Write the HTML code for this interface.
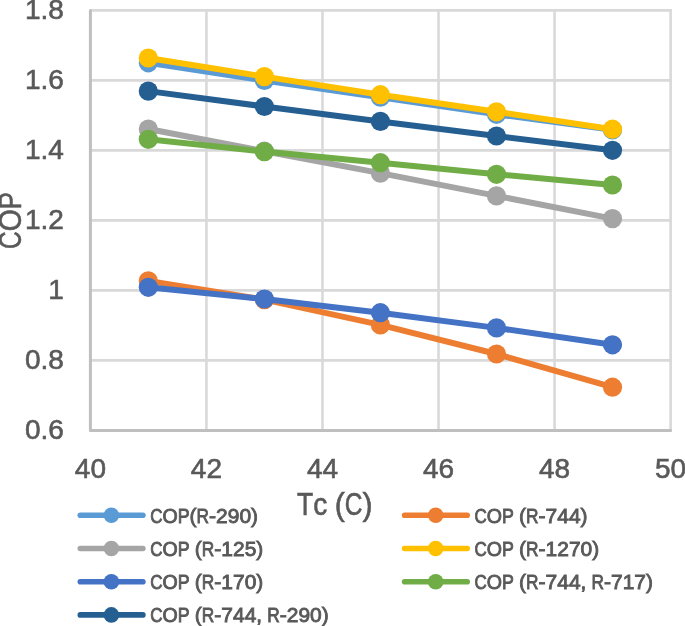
<!DOCTYPE html>
<html><head><meta charset="utf-8"><style>
html,body{margin:0;padding:0;background:#fff;width:685px;height:626px;overflow:hidden}
svg{display:block;will-change:transform}
text{font-family:"Liberation Sans",sans-serif;fill:#595959;stroke:#595959;stroke-width:0.35px}
svg text{opacity:0.999}
.tk{font-size:28px;stroke-width:0.6px}
.ti{font-size:30.48px;stroke-width:0.6px}
.lg{font-size:21.11px;stroke-width:0.9px}
</style></head><body>
<svg width="685" height="626" viewBox="0 0 685 626">
<line x1="90.4" y1="10.40" x2="671.9" y2="10.40" stroke="#d9d9d9" stroke-width="2.6"/>
<line x1="90.4" y1="80.40" x2="671.9" y2="80.40" stroke="#d9d9d9" stroke-width="2.6"/>
<line x1="90.4" y1="150.40" x2="671.9" y2="150.40" stroke="#d9d9d9" stroke-width="2.6"/>
<line x1="90.4" y1="220.40" x2="671.9" y2="220.40" stroke="#d9d9d9" stroke-width="2.6"/>
<line x1="90.4" y1="290.40" x2="671.9" y2="290.40" stroke="#d9d9d9" stroke-width="2.6"/>
<line x1="90.4" y1="360.40" x2="671.9" y2="360.40" stroke="#d9d9d9" stroke-width="2.6"/>
<line x1="206.44" y1="9.1" x2="206.44" y2="430.4" stroke="#d9d9d9" stroke-width="2.6"/>
<line x1="322.48" y1="9.1" x2="322.48" y2="430.4" stroke="#d9d9d9" stroke-width="2.6"/>
<line x1="438.52" y1="9.1" x2="438.52" y2="430.4" stroke="#d9d9d9" stroke-width="2.6"/>
<line x1="554.56" y1="9.1" x2="554.56" y2="430.4" stroke="#d9d9d9" stroke-width="2.6"/>
<line x1="670.60" y1="9.1" x2="670.60" y2="430.4" stroke="#d9d9d9" stroke-width="2.6"/>
<path d="M90.4,10.4 V430.4 H670.6" fill="none" stroke="#bfbfbf" stroke-width="3" stroke-linejoin="round" stroke-linecap="round"/>
<text x="63.9" y="19.1" text-anchor="end" class="tk">1.8</text>
<text x="63.9" y="89.1" text-anchor="end" class="tk">1.6</text>
<text x="63.9" y="159.1" text-anchor="end" class="tk">1.4</text>
<text x="63.9" y="229.1" text-anchor="end" class="tk">1.2</text>
<text x="63.9" y="299.1" text-anchor="end" class="tk">1</text>
<text x="63.9" y="369.1" text-anchor="end" class="tk">0.8</text>
<text x="63.9" y="439.1" text-anchor="end" class="tk">0.6</text>
<text x="90.4" y="477.6" text-anchor="middle" class="tk">40</text>
<text x="206.4" y="477.6" text-anchor="middle" class="tk">42</text>
<text x="322.5" y="477.6" text-anchor="middle" class="tk">44</text>
<text x="438.5" y="477.6" text-anchor="middle" class="tk">46</text>
<text x="554.6" y="477.6" text-anchor="middle" class="tk">48</text>
<text x="670.6" y="477.6" text-anchor="middle" class="tk">50</text>
<polyline points="148.3,62.8 264.4,80.5 380.4,97.2 496.5,114.3 612.5,129.9" fill="none" stroke="#5B9BD5" stroke-width="6.0" stroke-linejoin="round" stroke-linecap="round"/>
<circle cx="148.3" cy="62.8" r="9.6" fill="#5B9BD5"/>
<circle cx="264.4" cy="80.5" r="9.6" fill="#5B9BD5"/>
<circle cx="380.4" cy="97.2" r="9.6" fill="#5B9BD5"/>
<circle cx="496.5" cy="114.3" r="9.6" fill="#5B9BD5"/>
<circle cx="612.5" cy="129.9" r="9.6" fill="#5B9BD5"/>
<polyline points="148.3,280.9 264.4,299.6 380.4,324.9 496.5,354.0 612.5,387.2" fill="none" stroke="#ED7D31" stroke-width="6.0" stroke-linejoin="round" stroke-linecap="round"/>
<circle cx="148.3" cy="280.9" r="9.6" fill="#ED7D31"/>
<circle cx="264.4" cy="299.6" r="9.6" fill="#ED7D31"/>
<circle cx="380.4" cy="324.9" r="9.6" fill="#ED7D31"/>
<circle cx="496.5" cy="354.0" r="9.6" fill="#ED7D31"/>
<circle cx="612.5" cy="387.2" r="9.6" fill="#ED7D31"/>
<polyline points="148.3,129.0 264.4,151.2 380.4,173.1 496.5,195.9 612.5,218.6" fill="none" stroke="#A5A5A5" stroke-width="6.0" stroke-linejoin="round" stroke-linecap="round"/>
<circle cx="148.3" cy="129.0" r="9.6" fill="#A5A5A5"/>
<circle cx="264.4" cy="151.2" r="9.6" fill="#A5A5A5"/>
<circle cx="380.4" cy="173.1" r="9.6" fill="#A5A5A5"/>
<circle cx="496.5" cy="195.9" r="9.6" fill="#A5A5A5"/>
<circle cx="612.5" cy="218.6" r="9.6" fill="#A5A5A5"/>
<polyline points="148.3,58.0 264.4,76.6 380.4,94.7 496.5,111.8 612.5,129.2" fill="none" stroke="#FFC000" stroke-width="6.0" stroke-linejoin="round" stroke-linecap="round"/>
<circle cx="148.3" cy="58.0" r="9.6" fill="#FFC000"/>
<circle cx="264.4" cy="76.6" r="9.6" fill="#FFC000"/>
<circle cx="380.4" cy="94.7" r="9.6" fill="#FFC000"/>
<circle cx="496.5" cy="111.8" r="9.6" fill="#FFC000"/>
<circle cx="612.5" cy="129.2" r="9.6" fill="#FFC000"/>
<polyline points="148.3,287.3 264.4,299.0 380.4,312.7 496.5,327.9 612.5,344.8" fill="none" stroke="#4472C4" stroke-width="6.0" stroke-linejoin="round" stroke-linecap="round"/>
<circle cx="148.3" cy="287.3" r="9.6" fill="#4472C4"/>
<circle cx="264.4" cy="299.0" r="9.6" fill="#4472C4"/>
<circle cx="380.4" cy="312.7" r="9.6" fill="#4472C4"/>
<circle cx="496.5" cy="327.9" r="9.6" fill="#4472C4"/>
<circle cx="612.5" cy="344.8" r="9.6" fill="#4472C4"/>
<polyline points="148.3,139.3 264.4,151.6 380.4,162.7 496.5,174.3 612.5,185.0" fill="none" stroke="#70AD47" stroke-width="6.0" stroke-linejoin="round" stroke-linecap="round"/>
<circle cx="148.3" cy="139.3" r="9.6" fill="#70AD47"/>
<circle cx="264.4" cy="151.6" r="9.6" fill="#70AD47"/>
<circle cx="380.4" cy="162.7" r="9.6" fill="#70AD47"/>
<circle cx="496.5" cy="174.3" r="9.6" fill="#70AD47"/>
<circle cx="612.5" cy="185.0" r="9.6" fill="#70AD47"/>
<polyline points="148.3,91.1 264.4,106.5 380.4,121.4 496.5,136.0 612.5,150.3" fill="none" stroke="#255E91" stroke-width="6.0" stroke-linejoin="round" stroke-linecap="round"/>
<circle cx="148.3" cy="91.1" r="9.6" fill="#255E91"/>
<circle cx="264.4" cy="106.5" r="9.6" fill="#255E91"/>
<circle cx="380.4" cy="121.4" r="9.6" fill="#255E91"/>
<circle cx="496.5" cy="136.0" r="9.6" fill="#255E91"/>
<circle cx="612.5" cy="150.3" r="9.6" fill="#255E91"/>
<text transform="translate(297.01,515.20) scale(0.8690,1)" class="ti">T</text>
<text transform="translate(313.18,515.20) scale(0.9212,1)" class="ti">c</text>
<text transform="translate(334.73,515.20) scale(0.9919,1)" class="ti">(</text>
<text transform="translate(344.79,515.20) scale(0.8043,1)" class="ti">C</text>
<text transform="translate(362.50,515.20) scale(0.9919,1)" class="ti">)</text>
<g transform="translate(21.1,247.7) rotate(-90)"><text transform="translate(-1.24,0.00) scale(0.8043,1)" class="ti">C</text>
<text transform="translate(16.46,0.00) scale(0.9273,1)" class="ti">O</text>
<text transform="translate(38.44,0.00) scale(0.8437,1)" class="ti">P</text></g>
<line x1="80.3" y1="515.3" x2="142.9" y2="515.3" stroke="#5B9BD5" stroke-width="5.6" stroke-linecap="round"/>
<circle cx="111.4" cy="515.3" r="7.8" fill="#5B9BD5"/>
<text transform="translate(150.24,522.50) scale(0.8043,1)" class="lg">C</text>
<text transform="translate(162.50,522.50) scale(0.9273,1)" class="lg">O</text>
<text transform="translate(177.73,522.50) scale(0.8437,1)" class="lg">P</text>
<text transform="translate(189.61,522.50) scale(0.9919,1)" class="lg">(</text>
<text transform="translate(196.59,522.50) scale(0.8190,1)" class="lg">R</text>
<text transform="translate(209.07,522.50) scale(1.0015,1)" class="lg">-</text>
<text transform="translate(216.12,522.50) scale(0.9927,1)" class="lg">2</text>
<text transform="translate(227.77,522.50) scale(0.9927,1)" class="lg">9</text>
<text transform="translate(239.43,522.50) scale(0.9927,1)" class="lg">0</text>
<text transform="translate(251.09,522.50) scale(0.9919,1)" class="lg">)</text>
<line x1="404.6" y1="515.3" x2="467.2" y2="515.3" stroke="#ED7D31" stroke-width="5.6" stroke-linecap="round"/>
<circle cx="435.7" cy="515.3" r="7.8" fill="#ED7D31"/>
<text transform="translate(474.54,522.50) scale(0.8043,1)" class="lg">C</text>
<text transform="translate(486.80,522.50) scale(0.9273,1)" class="lg">O</text>
<text transform="translate(502.03,522.50) scale(0.8437,1)" class="lg">P</text>
<text transform="translate(519.11,522.50) scale(0.9919,1)" class="lg">(</text>
<text transform="translate(526.09,522.50) scale(0.8190,1)" class="lg">R</text>
<text transform="translate(538.57,522.50) scale(1.0015,1)" class="lg">-</text>
<text transform="translate(545.62,522.50) scale(0.9927,1)" class="lg">7</text>
<text transform="translate(557.27,522.50) scale(0.9927,1)" class="lg">4</text>
<text transform="translate(568.93,522.50) scale(0.9927,1)" class="lg">4</text>
<text transform="translate(580.59,522.50) scale(0.9919,1)" class="lg">)</text>
<line x1="80.3" y1="548.5" x2="142.9" y2="548.5" stroke="#A5A5A5" stroke-width="5.6" stroke-linecap="round"/>
<circle cx="111.4" cy="548.5" r="7.8" fill="#A5A5A5"/>
<text transform="translate(150.24,555.70) scale(0.8043,1)" class="lg">C</text>
<text transform="translate(162.50,555.70) scale(0.9273,1)" class="lg">O</text>
<text transform="translate(177.73,555.70) scale(0.8437,1)" class="lg">P</text>
<text transform="translate(194.81,555.70) scale(0.9919,1)" class="lg">(</text>
<text transform="translate(201.79,555.70) scale(0.8190,1)" class="lg">R</text>
<text transform="translate(214.27,555.70) scale(1.0015,1)" class="lg">-</text>
<text transform="translate(221.32,555.70) scale(0.9927,1)" class="lg">1</text>
<text transform="translate(232.97,555.70) scale(0.9927,1)" class="lg">2</text>
<text transform="translate(244.63,555.70) scale(0.9927,1)" class="lg">5</text>
<text transform="translate(256.29,555.70) scale(0.9919,1)" class="lg">)</text>
<line x1="404.6" y1="548.5" x2="467.2" y2="548.5" stroke="#FFC000" stroke-width="5.6" stroke-linecap="round"/>
<circle cx="435.7" cy="548.5" r="7.8" fill="#FFC000"/>
<text transform="translate(474.54,555.70) scale(0.8043,1)" class="lg">C</text>
<text transform="translate(486.80,555.70) scale(0.9273,1)" class="lg">O</text>
<text transform="translate(502.03,555.70) scale(0.8437,1)" class="lg">P</text>
<text transform="translate(519.11,555.70) scale(0.9919,1)" class="lg">(</text>
<text transform="translate(526.09,555.70) scale(0.8190,1)" class="lg">R</text>
<text transform="translate(538.57,555.70) scale(1.0015,1)" class="lg">-</text>
<text transform="translate(545.62,555.70) scale(0.9927,1)" class="lg">1</text>
<text transform="translate(557.27,555.70) scale(0.9927,1)" class="lg">2</text>
<text transform="translate(568.93,555.70) scale(0.9927,1)" class="lg">7</text>
<text transform="translate(580.59,555.70) scale(0.9927,1)" class="lg">0</text>
<text transform="translate(592.24,555.70) scale(0.9919,1)" class="lg">)</text>
<line x1="80.3" y1="581.7" x2="142.9" y2="581.7" stroke="#4472C4" stroke-width="5.6" stroke-linecap="round"/>
<circle cx="111.4" cy="581.7" r="7.8" fill="#4472C4"/>
<text transform="translate(150.24,588.90) scale(0.8043,1)" class="lg">C</text>
<text transform="translate(162.50,588.90) scale(0.9273,1)" class="lg">O</text>
<text transform="translate(177.73,588.90) scale(0.8437,1)" class="lg">P</text>
<text transform="translate(194.81,588.90) scale(0.9919,1)" class="lg">(</text>
<text transform="translate(201.79,588.90) scale(0.8190,1)" class="lg">R</text>
<text transform="translate(214.27,588.90) scale(1.0015,1)" class="lg">-</text>
<text transform="translate(221.32,588.90) scale(0.9927,1)" class="lg">1</text>
<text transform="translate(232.97,588.90) scale(0.9927,1)" class="lg">7</text>
<text transform="translate(244.63,588.90) scale(0.9927,1)" class="lg">0</text>
<text transform="translate(256.29,588.90) scale(0.9919,1)" class="lg">)</text>
<line x1="404.6" y1="581.7" x2="467.2" y2="581.7" stroke="#70AD47" stroke-width="5.6" stroke-linecap="round"/>
<circle cx="435.7" cy="581.7" r="7.8" fill="#70AD47"/>
<text transform="translate(474.54,588.90) scale(0.8043,1)" class="lg">C</text>
<text transform="translate(486.80,588.90) scale(0.9273,1)" class="lg">O</text>
<text transform="translate(502.03,588.90) scale(0.8437,1)" class="lg">P</text>
<text transform="translate(519.11,588.90) scale(0.9919,1)" class="lg">(</text>
<text transform="translate(526.09,588.90) scale(0.8190,1)" class="lg">R</text>
<text transform="translate(538.57,588.90) scale(1.0015,1)" class="lg">-</text>
<text transform="translate(545.62,588.90) scale(0.9927,1)" class="lg">7</text>
<text transform="translate(557.27,588.90) scale(0.9927,1)" class="lg">4</text>
<text transform="translate(568.93,588.90) scale(0.9927,1)" class="lg">4</text>
<text transform="translate(580.59,588.90) scale(0.9783,1)" class="lg">,</text>
<text transform="translate(591.53,588.90) scale(0.8190,1)" class="lg">R</text>
<text transform="translate(604.01,588.90) scale(1.0015,1)" class="lg">-</text>
<text transform="translate(611.06,588.90) scale(0.9927,1)" class="lg">7</text>
<text transform="translate(622.71,588.90) scale(0.9927,1)" class="lg">1</text>
<text transform="translate(634.37,588.90) scale(0.9927,1)" class="lg">7</text>
<text transform="translate(646.03,588.90) scale(0.9919,1)" class="lg">)</text>
<line x1="80.3" y1="614.9" x2="142.9" y2="614.9" stroke="#255E91" stroke-width="5.6" stroke-linecap="round"/>
<circle cx="111.4" cy="614.9" r="7.8" fill="#255E91"/>
<text transform="translate(150.24,622.10) scale(0.8043,1)" class="lg">C</text>
<text transform="translate(162.50,622.10) scale(0.9273,1)" class="lg">O</text>
<text transform="translate(177.73,622.10) scale(0.8437,1)" class="lg">P</text>
<text transform="translate(194.81,622.10) scale(0.9919,1)" class="lg">(</text>
<text transform="translate(201.79,622.10) scale(0.8190,1)" class="lg">R</text>
<text transform="translate(214.27,622.10) scale(1.0015,1)" class="lg">-</text>
<text transform="translate(221.32,622.10) scale(0.9927,1)" class="lg">7</text>
<text transform="translate(232.97,622.10) scale(0.9927,1)" class="lg">4</text>
<text transform="translate(244.63,622.10) scale(0.9927,1)" class="lg">4</text>
<text transform="translate(256.29,622.10) scale(0.9783,1)" class="lg">,</text>
<text transform="translate(267.23,622.10) scale(0.8190,1)" class="lg">R</text>
<text transform="translate(279.71,622.10) scale(1.0015,1)" class="lg">-</text>
<text transform="translate(286.76,622.10) scale(0.9927,1)" class="lg">2</text>
<text transform="translate(298.41,622.10) scale(0.9927,1)" class="lg">9</text>
<text transform="translate(310.07,622.10) scale(0.9927,1)" class="lg">0</text>
<text transform="translate(321.73,622.10) scale(0.9919,1)" class="lg">)</text>
</svg>
</body></html>
